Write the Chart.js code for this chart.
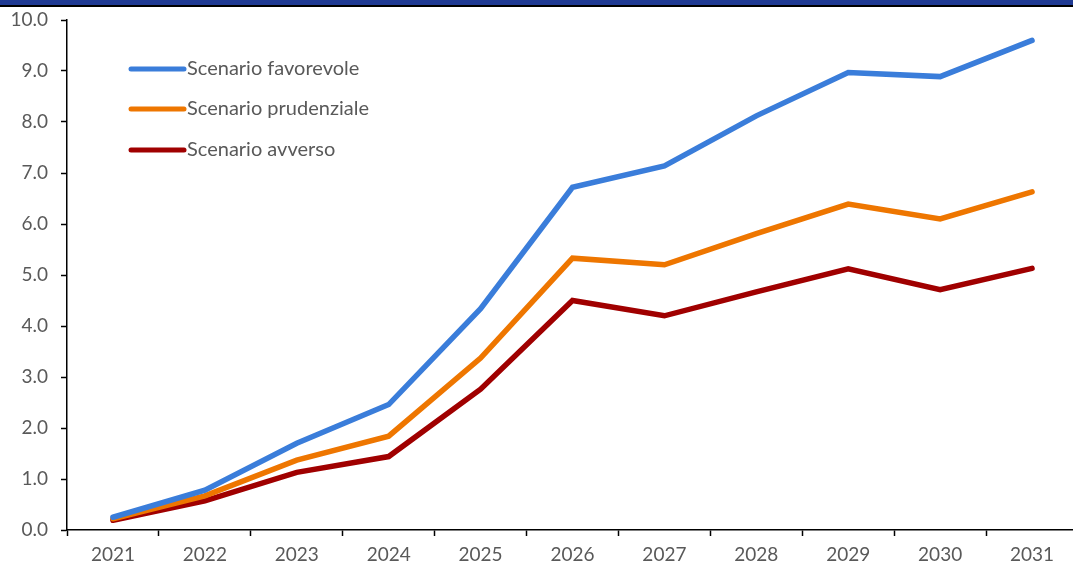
<!DOCTYPE html>
<html>
<head>
<meta charset="utf-8">
<script src="https://cdn.jsdelivr.net/npm/chart.js@4.4.1/dist/chart.umd.min.js"></script>
<style>
html,body{margin:0;padding:0;background:#fff;overflow:hidden;width:1073px;height:567px;}
#wrap{position:relative;width:1090px;height:567px;}
#band{position:absolute;left:0;top:0;width:1073px;height:5px;background:#1F3A93;border-bottom:2px solid #000;z-index:2;}
canvas{display:block;}
</style>
</head>
<body>
<div id="wrap">
<div id="band"></div>
<canvas id="c" width="1090" height="567"></canvas>
</div>
<script>
const years = ['2021','2022','2023','2024','2025','2026','2027','2028','2029','2030','2031'];
const favorevole = [0.25, 0.78, 1.70, 2.46, 4.34, 6.72, 7.14, 8.12, 8.97, 8.89, 9.60];
const prudenziale = [0.22, 0.67, 1.37, 1.84, 3.37, 5.33, 5.20, 5.81, 6.39, 6.10, 6.63];
const avverso = [0.19, 0.57, 1.13, 1.44, 2.76, 4.50, 4.20, 4.67, 5.12, 4.71, 5.13];
const seriesNames = ['Scenario favorevole', 'Scenario prudenziale', 'Scenario avverso'];
const yTicks = [0,1,2,3,4,5,6,7,8,9,10];

const FONT = "Lato, 'Open Sans', sans-serif";
const TXT = '#595959';

const legendPlugin = {
  id: 'customLegend',
  afterDraw(chart) {
    const ctx = chart.ctx;
    const ys = [69, 109, 150];
    ctx.save();
    chart.data.datasets.forEach((ds, i) => {
      ctx.strokeStyle = ds.borderColor;
      ctx.lineWidth = 5;
      ctx.lineCap = 'round';
      ctx.beginPath();
      ctx.moveTo(131, ys[i]);
      ctx.lineTo(184, ys[i]);
      ctx.stroke();
      ctx.fillStyle = TXT;
      ctx.font = "20px " + FONT;
      ctx.textBaseline = 'middle';
      ctx.textAlign = 'left';
      ctx.fillText(ds.label, 187, ys[i]);
    });
    ctx.restore();
  }
};

new Chart(document.getElementById('c'), {
  type: 'line',
  data: {
    labels: years,
    datasets: [
      {label: seriesNames[0], data: favorevole, borderColor: '#3A7DDA'},
      {label: seriesNames[1], data: prudenziale, borderColor: '#EE7600'},
      {label: seriesNames[2], data: avverso, borderColor: '#A00000'}
    ].map(d => Object.assign(d, {borderWidth: 5.5, pointRadius: 0, tension: 0, fill: false, borderCapStyle: 'round', borderJoinStyle: 'miter'}))
  },
  options: {
    responsive: false,
    animation: false,
    events: [],
    layout: {padding: {top: 20, right: 12, left: 0, bottom: 0}},
    plugins: {legend: {display: false}, tooltip: {enabled: false}},
    scales: {
      x: {
        offset: true,
        grid: {display: true, offset: true, drawOnChartArea: false, tickLength: 6, color: '#000', tickWidth: 1.5},
        border: {color: '#000', width: 1.5},
        ticks: {color: TXT, font: {family: FONT, size: 19}, padding: 7, maxRotation: 0},
        afterFit(s) { s.height = 37; s.paddingLeft = 0; s.paddingRight = 0; }
      },
      y: {
        min: 0, max: 10,
        afterBuildTicks(s) { s.ticks = yTicks.map(v => ({value: v})); },
        grid: {display: true, drawOnChartArea: false, tickLength: 6, color: '#000', tickWidth: 1.5},
        border: {color: '#000', width: 1.5},
        ticks: {color: TXT, font: {family: FONT, size: 19}, padding: 13, callback: v => Number(v).toFixed(1)},
        afterFit(s) { s.width = 67; s.paddingTop = 0; s.paddingBottom = 0; }
      }
    }
  },
  plugins: [legendPlugin]
});
</script>
</body>
</html>
